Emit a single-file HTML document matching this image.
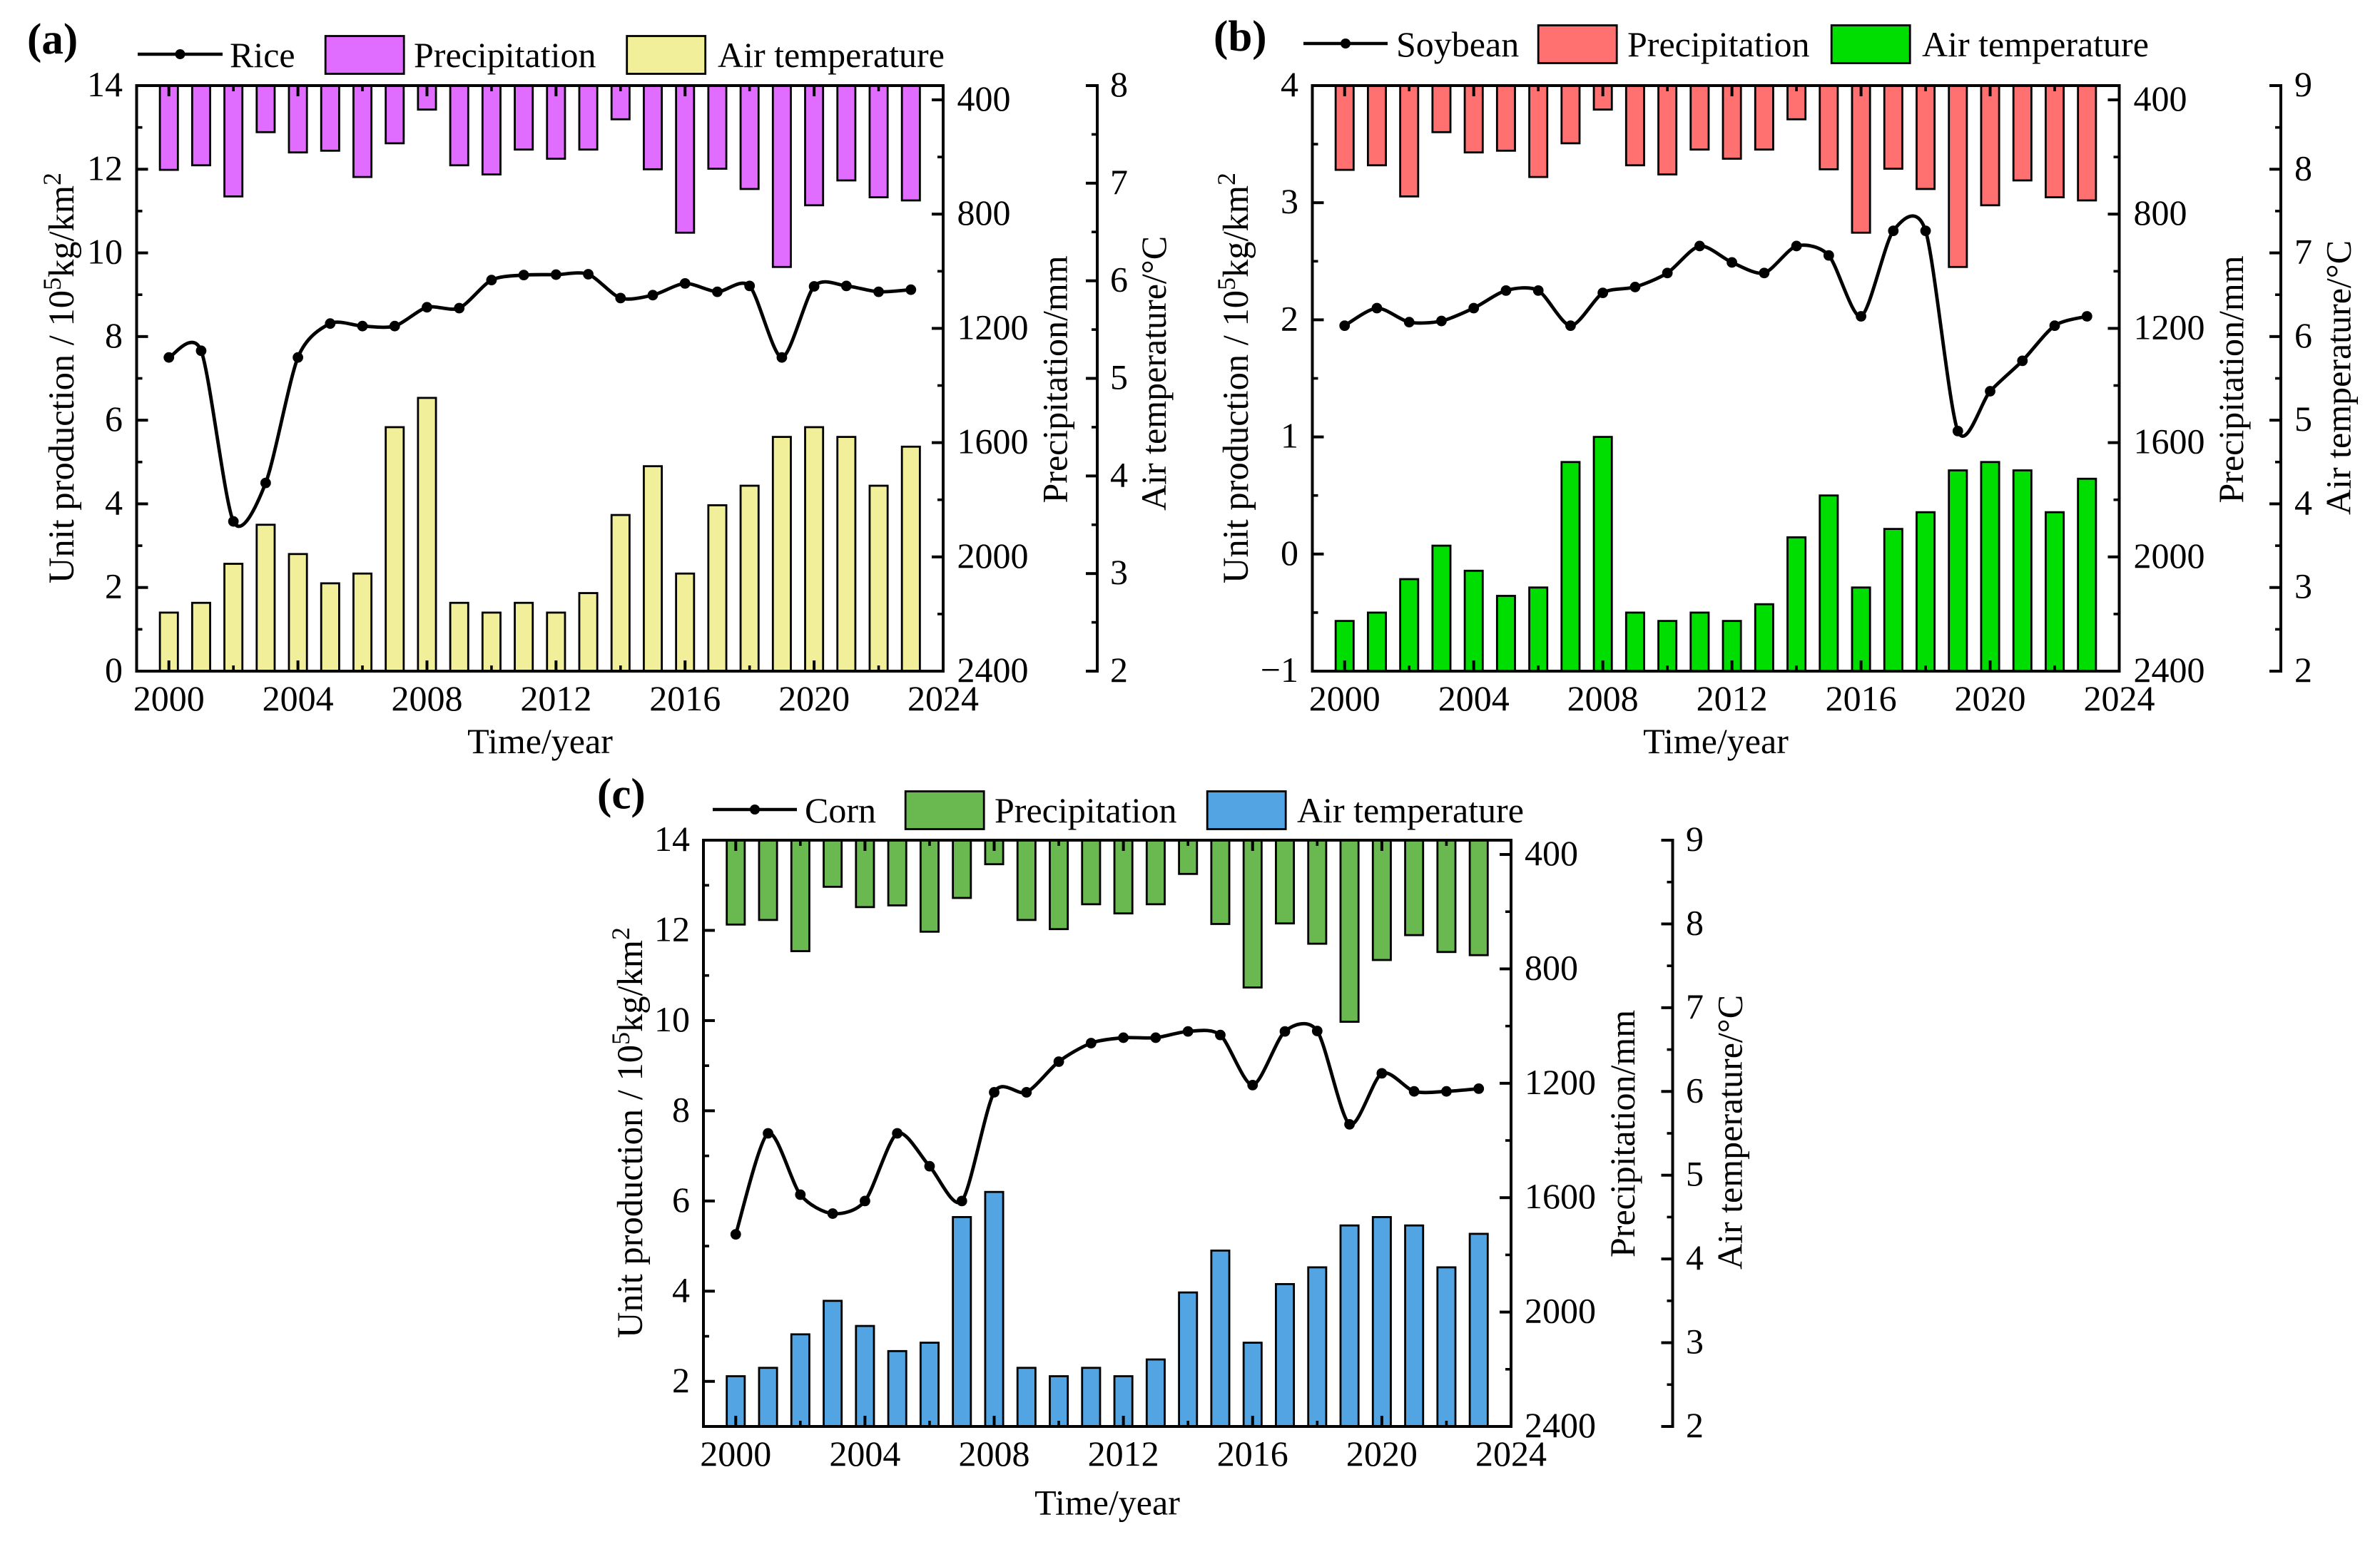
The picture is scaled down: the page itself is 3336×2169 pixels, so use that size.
<!DOCTYPE html>
<html lang="en">
<head>
<meta charset="utf-8">
<title>Unit production, precipitation and air temperature, 2000–2023</title>
<style>
html,body{margin:0;padding:0;background:#fff;}
svg{display:block;}
text{font-family:"Liberation Serif",serif;font-size:50px;fill:#000;}
.panel-tag{font-size:61px;font-weight:bold;}
.y-title{font-size:50.5px;}
</style>
</head>
<body>
<svg id="figure" xmlns="http://www.w3.org/2000/svg" width="3336" height="2169" viewBox="0 0 3336 2169">
<rect x="0" y="0" width="3336" height="2169" fill="#fff"/>

<g id="panel-a">
  <g id="plot-a"></g>
  <text class="panel-tag" x="38" y="75">(a)</text>
  <g>
    <line x1="193" x2="312" y1="76" y2="76" stroke="#000" stroke-width="4.6"/>
    <circle cx="252.5" cy="76" r="7" fill="#000"/>
    <text x="322" y="94">Rice</text>
    <rect x="456.2" y="50.5" width="110" height="53" fill="#E06DFF" stroke="#000" stroke-width="2.8"/>
    <text x="580" y="94">Precipitation</text>
    <rect x="878.7" y="50.5" width="110" height="53" fill="#F2EF9A" stroke="#000" stroke-width="2.8"/>
    <text x="1006" y="94">Air temperature</text>
  </g>
  <text x="757" y="1056" text-anchor="middle">Time/year</text>
  <text class="y-title" transform="translate(103,530) rotate(-90)" text-anchor="middle">Unit production / 10<tspan font-size="36" dy="-18">5</tspan><tspan dy="18">kg/km</tspan><tspan font-size="36" dy="-18">2</tspan></text>
  <text transform="translate(1495.5,705.5) rotate(-90)">Precipitation/mm</text>
  <text transform="translate(1634,716) rotate(-90)">Air temperature/°C</text>
</g>

<g id="panel-b">
  <g id="plot-b"></g>
  <text class="panel-tag" x="1701" y="71">(b)</text>
  <g>
    <line x1="1827" x2="1945" y1="61" y2="61" stroke="#000" stroke-width="4.6"/>
    <circle cx="1886" cy="61" r="7" fill="#000"/>
    <text x="1957" y="79">Soybean</text>
    <rect x="2156.2" y="35.5" width="110" height="53" fill="#FF7070" stroke="#000" stroke-width="2.8"/>
    <text x="2281" y="79">Precipitation</text>
    <rect x="2567.2" y="35.5" width="110" height="53" fill="#00DD00" stroke="#000" stroke-width="2.8"/>
    <text x="2694" y="79">Air temperature</text>
  </g>
  <text x="2405" y="1056" text-anchor="middle">Time/year</text>
  <text class="y-title" transform="translate(1749,530) rotate(-90)" text-anchor="middle">Unit production / 10<tspan font-size="36" dy="-18">5</tspan><tspan dy="18">kg/km</tspan><tspan font-size="36" dy="-18">2</tspan></text>
  <text transform="translate(3144,705.5) rotate(-90)">Precipitation/mm</text>
  <text transform="translate(3294.7,722) rotate(-90)">Air temperature/°C</text>
</g>

<g id="panel-c">
  <g id="plot-c"></g>
  <text class="panel-tag" x="837" y="1133.5">(c)</text>
  <g>
    <line x1="999" x2="1117" y1="1135" y2="1135" stroke="#000" stroke-width="4.6"/>
    <circle cx="1058" cy="1135" r="7" fill="#000"/>
    <text x="1128" y="1153">Corn</text>
    <rect x="1269.2" y="1109.5" width="110" height="53" fill="#6AB850" stroke="#000" stroke-width="2.8"/>
    <text x="1394" y="1153">Precipitation</text>
    <rect x="1692.2" y="1109.5" width="110" height="53" fill="#52A5E2" stroke="#000" stroke-width="2.8"/>
    <text x="1818" y="1153">Air temperature</text>
  </g>
  <text x="1552" y="2123.5" text-anchor="middle">Time/year</text>
  <text class="y-title" transform="translate(900,1588) rotate(-90)" text-anchor="middle">Unit production / 10<tspan font-size="36" dy="-18">5</tspan><tspan dy="18">kg/km</tspan><tspan font-size="36" dy="-18">2</tspan></text>
  <text transform="translate(2291,1763) rotate(-90)">Precipitation/mm</text>
  <text transform="translate(2441.5,1780) rotate(-90)">Air temperature/°C</text>
</g>
</svg>

<script>
const years = [2000,2001,2002,2003,2004,2005,2006,2007,2008,2009,2010,2011,2012,2013,2014,2015,2016,2017,2018,2019,2020,2021,2022,2023];
const precipitation = [645,629,738,513,584,578,670,552,434,629,661,574,606,574,468,643,865,641,712,985,769,682,741,752];
const airTemperature = [2.6,2.7,3.1,3.5,3.2,2.9,3.0,4.5,4.8,2.7,2.6,2.7,2.6,2.8,3.6,4.1,3.0,3.7,3.9,4.4,4.5,4.4,3.9,4.3];
const riceProduction = [7.50,7.66,3.58,4.50,7.50,8.31,8.25,8.25,8.70,8.68,9.35,9.47,9.48,9.49,8.92,8.99,9.27,9.07,9.21,7.50,9.20,9.21,9.07,9.12];
const soybeanProduction = [1.95,2.10,1.98,1.99,2.10,2.25,2.25,1.95,2.23,2.28,2.40,2.63,2.49,2.40,2.63,2.55,2.03,2.76,2.76,1.05,1.39,1.65,1.95,2.03];
const cornProduction = [5.26,7.50,6.14,5.72,6.00,7.50,6.77,6.00,8.41,8.41,9.09,9.50,9.62,9.62,9.76,9.68,8.57,9.76,9.77,7.70,8.83,8.43,8.43,8.49];
const xTickLabels = [2000,2004,2008,2012,2016,2020,2024];
const precipitationTicks = [400,800,1200,1600,2000,2400];
const riceTicks = [0,2,4,6,8,10,12,14];
const soybeanTicks = [-1,0,1,2,3,4];
const cornTicks = [2,4,6,8,10,12,14];
const temperatureTicksShort = [2,3,4,5,6,7,8];
const temperatureTicksTall = [2,3,4,5,6,7,8,9];

const SVG_NS = 'http://www.w3.org/2000/svg';
const CURVE_TENSION = 0.8;

function make(parent, tag, attrs) {
  const el = document.createElementNS(SVG_NS, tag);
  for (const k in attrs) el.setAttribute(k, attrs[k]);
  parent.appendChild(el);
  return el;
}

function drawTick(parent, x1, y1, x2, y2, major) {
  const el = make(parent, 'line', {x1:x1, y1:y1, x2:x2, y2:y2, stroke:'#000', 'stroke-width':major ? 4 : 3.6});
  
  
}

function drawLabel(parent, x, y, anchor, content) {
  const el = make(parent, 'text', {x:x, y:y, 'text-anchor':anchor});
  
  
  el.textContent = String(content).replace('-', '\u2212');
}

function drawPanel(p) {
  const root = document.getElementById(p.id);
  const xScale = v => p.left + (v - 1999) * (p.right - p.left) / 25;
  const yScale = v => p.bottom - (v - p.yMin) * (p.bottom - p.top) / (p.yMax - p.yMin);
  const precipScale = v => p.top + (v - 350) * (p.bottom - p.top) / (2400 - 350);
  const tempScale = v => p.bottom - (v - 2) * (p.bottom - p.top) / (p.tempMax - 2);
  const barWidth = 25.2;

  const tempGroup = make(root, 'g', {});
  
  
  years.forEach((yr, i) => {
    const top = tempScale(airTemperature[i]);
    const bar = make(tempGroup, 'rect', {x:xScale(yr) - barWidth / 2, y:top, width:barWidth, height:p.bottom - top, fill:p.tempColor, stroke:'#000', 'stroke-width':2.8});
    
    
  });

  const precipGroup = make(root, 'g', {});
  
  
  years.forEach((yr, i) => {
    const end = precipScale(precipitation[i]);
    const bar = make(precipGroup, 'rect', {x:xScale(yr) - barWidth / 2, y:p.top, width:barWidth, height:end - p.top, fill:p.precipColor, stroke:'#000', 'stroke-width':2.8});
    
    
  });

  const axes = make(root, 'g', {});
  
  
  const frame = make(axes, 'rect', {x:p.left, y:p.top, width:p.right - p.left, height:p.bottom - p.top, fill:'none', stroke:'#000', 'stroke-width':4});
  
  
  const tempAxis = make(axes, 'line', {x1:p.tempX, x2:p.tempX, y1:p.top - 2, y2:p.bottom + 2, stroke:'#000', 'stroke-width':4});
  
  

  xTickLabels.forEach((v, i) => {
    const x = xScale(v);
    drawTick(axes, x, p.bottom, x, p.bottom - 15, true);
    drawTick(axes, x, p.top, x, p.top + 15, true);
    drawLabel(axes, x, p.bottom + 55, 'middle', v);
    if (i < xTickLabels.length - 1) {
      const mx = xScale((v + xTickLabels[i + 1]) / 2);
      drawTick(axes, mx, p.bottom, mx, p.bottom - 8, false);
      drawTick(axes, mx, p.top, mx, p.top + 8, false);
    }
  });

  p.yTicks.forEach((v, i) => {
    const y = yScale(v);
    drawTick(axes, p.left, y, p.left + 16, y, true);
    drawLabel(axes, p.yLabelX, y + 15, 'end', v);
    if (i < p.yTicks.length - 1) {
      const my = yScale((v + p.yTicks[i + 1]) / 2);
      drawTick(axes, p.left, my, p.left + 8, my, false);
    }
  });

  precipitationTicks.forEach((v, i) => {
    const y = precipScale(v);
    drawTick(axes, p.right, y, p.right - 16, y, true);
    drawLabel(axes, p.precipLabelX, y + 15, 'start', v);
    if (i < precipitationTicks.length - 1) {
      const my = precipScale((v + precipitationTicks[i + 1]) / 2);
      drawTick(axes, p.right, my, p.right - 8, my, false);
    }
  });

  p.tempTicks.forEach((v, i) => {
    const y = tempScale(v);
    drawTick(axes, p.tempX, y, p.tempX - 16, y, true);
    drawLabel(axes, p.tempLabelX, y + 15, 'start', v);
    if (i < p.tempTicks.length - 1) {
      const my = tempScale((v + p.tempTicks[i + 1]) / 2);
      drawTick(axes, p.tempX, my, p.tempX - 8, my, false);
    }
  });

  const pts = years.map((yr, i) => [xScale(yr), yScale(p.series[i])]);
  let d = 'M' + pts[0][0] + ' ' + pts[0][1];
  for (let i = 0; i < pts.length - 1; i++) {
    const a = pts[Math.max(i - 1, 0)], b = pts[i], c = pts[i + 1], e = pts[Math.min(i + 2, pts.length - 1)];
    const k = CURVE_TENSION / 6;
    d += ' C' + (b[0] + (c[0] - a[0]) * k) + ' ' + (b[1] + (c[1] - a[1]) * k) + ' ' +
         (c[0] - (e[0] - b[0]) * k) + ' ' + (c[1] - (e[1] - b[1]) * k) + ' ' + c[0] + ' ' + c[1];
  }
  const line = make(root, 'path', {d:d, fill:'none', stroke:'#000', 'stroke-width':4.8});
  
  
  years.forEach((yr, i) => {
    const dot = make(root, 'circle', {cx:pts[i][0], cy:pts[i][1], r:7.4, fill:'#000'});
    
    
  });
}

drawPanel({id:'plot-a', left:191.5, right:1322, top:120, bottom:941, tempX:1538, yMin:0, yMax:14,
  yTicks:riceTicks, tempTicks:temperatureTicksShort, tempMax:8, series:riceProduction,
  precipColor:'#E06DFF', tempColor:'#F2EF9A', yLabelX:172, precipLabelX:1341.5, tempLabelX:1556});
drawPanel({id:'plot-b', left:1839.5, right:2970.5, top:120, bottom:941, tempX:3197, yMin:-1, yMax:4,
  yTicks:soybeanTicks, tempTicks:temperatureTicksTall, tempMax:9, series:soybeanProduction,
  precipColor:'#FF7070', tempColor:'#00DD00', yLabelX:1820, precipLabelX:2990.5, tempLabelX:3216});
drawPanel({id:'plot-c', left:986, right:2118, top:1178, bottom:2000, tempX:2344.5, yMin:1, yMax:14,
  yTicks:cornTicks, tempTicks:temperatureTicksTall, tempMax:9, series:cornProduction,
  precipColor:'#6AB850', tempColor:'#52A5E2', yLabelX:967, precipLabelX:2137, tempLabelX:2363});
</script>
</body>
</html>
